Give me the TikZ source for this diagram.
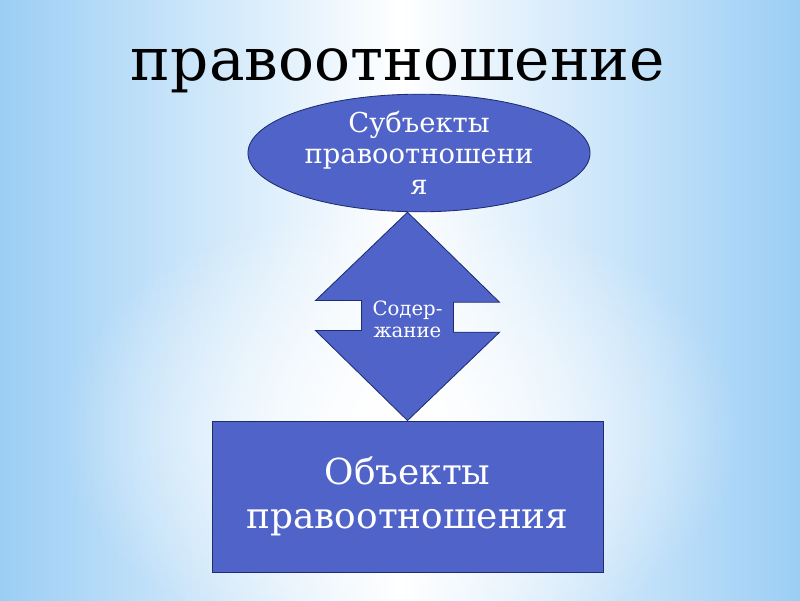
\documentclass[tikz,border=0pt]{standalone}
\usepackage{fontspec}
\setmainfont{DejaVu Serif}
\usetikzlibrary{shapes.geometric,fadings,calc}
\definecolor{skyedge}{RGB}{155,206,245}
\definecolor{boxblue}{RGB}{79,99,201}
\definecolor{boxline}{RGB}{30,45,110}
\tikzfading[name=glow,inner color=transparent!0,outer color=transparent!100]

\begin{document}
\begin{tikzpicture}[x=0.025cm,y=-0.025cm,
  shp/.style={fill=boxblue,draw=boxline,line width=0.6pt},
  txt/.style={text=white,align=center,inner sep=0pt}]
  \useasboundingbox (0,0) rectangle (800,600);
  % background
  \shade[left color=skyedge,right color=skyedge,middle color=white] (0,0) rectangle (800,600);
  \fill[white,path fading=glow] (400,430) ellipse [x radius=340, y radius=230];
  \node[anchor=base,font=\fontsize{42.5}{50}\selectfont] (title) at (398,80) {правоотношение};
  \node[shp,txt,ellipse,minimum width=8.55cm,minimum height=2.85cm,
    font=\fontsize{19.5}{22}\selectfont] (subj) at (419,153) {Субъекты\\правоотношени\\я};
  \node[shp,txt,rectangle,minimum width=9.775cm,minimum height=3.775cm,
    font=\fontsize{25.5}{31}\selectfont] (obj) at (407.5,496.5) {Объекты\\правоотношения};
  % double arrow between them
  \coordinate (bot) at (obj.north);
  \coordinate (top) at (obj.north |- subj.south);
  \draw[shp] (top) -- ++(92,90) -- ++(-46,0) -- ++(0,30) -- ++(46,0) -- (bot)
    -- ++(-92,-90) -- ++(46,0) -- ++(0,-30) -- ++(-46,0) -- cycle;
  \node[txt,font=\fontsize{14}{16}\selectfont] (content) at ($(top)!0.5!(bot)+(0,3)$) {Содер-\\жание};
\end{tikzpicture}
\end{document}
